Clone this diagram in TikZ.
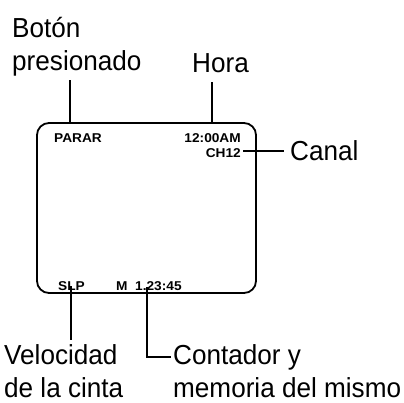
\documentclass[tikz,border=0pt]{standalone}
\usepackage{fontspec}
\setmainfont{Liberation Sans}
\newfontfamily\lblfont[FakeStretch=0.95]{Liberation Sans}
\newfontfamily\smfont[FakeStretch=1.07]{Liberation Sans}
\begin{document}
\begin{tikzpicture}[x=1pt,y=-1pt,
  lbl/.style={font=\lblfont\fontsize{27.5}{33}\selectfont, inner sep=0pt, anchor=base west, align=left},
  small/.style={font=\smfont\bfseries\fontsize{12.8}{14}\selectfont, inner sep=0pt},
  lead/.style={line width=1.7pt},
  screen/.style={line width=1.8pt, rounded corners=12pt}]
\useasboundingbox (0,0) rectangle (404,402);
% screen
\draw[screen] (37,123) rectangle (256,293);
% small texts
\node[small, anchor=base west] (parar) at (54,142) {PARAR};
\node[small, anchor=base east] (hora12) at (241,142) {12:00AM};
\node[small, anchor=base east] (ch) at (241,157) {CH12};
\node[small, anchor=base west] (slp) at (58,290) {SLP};
\node[small, anchor=base west] (cnt) at (116,290) {M\ \ 1.23:45};
% labels
\node[lbl] (boton) at (12,70) {Botón\\presionado};
\node[lbl] (hora) at (192,72) {Hora};
\node[lbl] (canal) at (290,160) {Canal};
\node[lbl] (vel) at (4,397) {Velocidad\\de la cinta};
\node[lbl] (cont) at (173,397) {Contador y\\memoria del mismo};
% leaders
\coordinate (b1) at (70,80);
\coordinate (b2) at (70,123);
\coordinate (h1) at (212,82);
\coordinate (h2) at (212,123);
\coordinate (c1) at (243,151);
\coordinate (c2) at (284,151);
\coordinate (s1) at (71,286);
\coordinate (s2) at (71,340);
\coordinate (m1) at (147,287);
\coordinate (m2) at (147,357);
\coordinate (m3) at (171,357);
\draw[lead] (b1) -- (b2);
\draw[lead] (h1) -- (h2);
\draw[lead] (c1) -- (c2);
\draw[lead] (s1) -- (s2);
\draw[lead] (m1) -- (m2) -- (m3);
\end{tikzpicture}
\end{document}
